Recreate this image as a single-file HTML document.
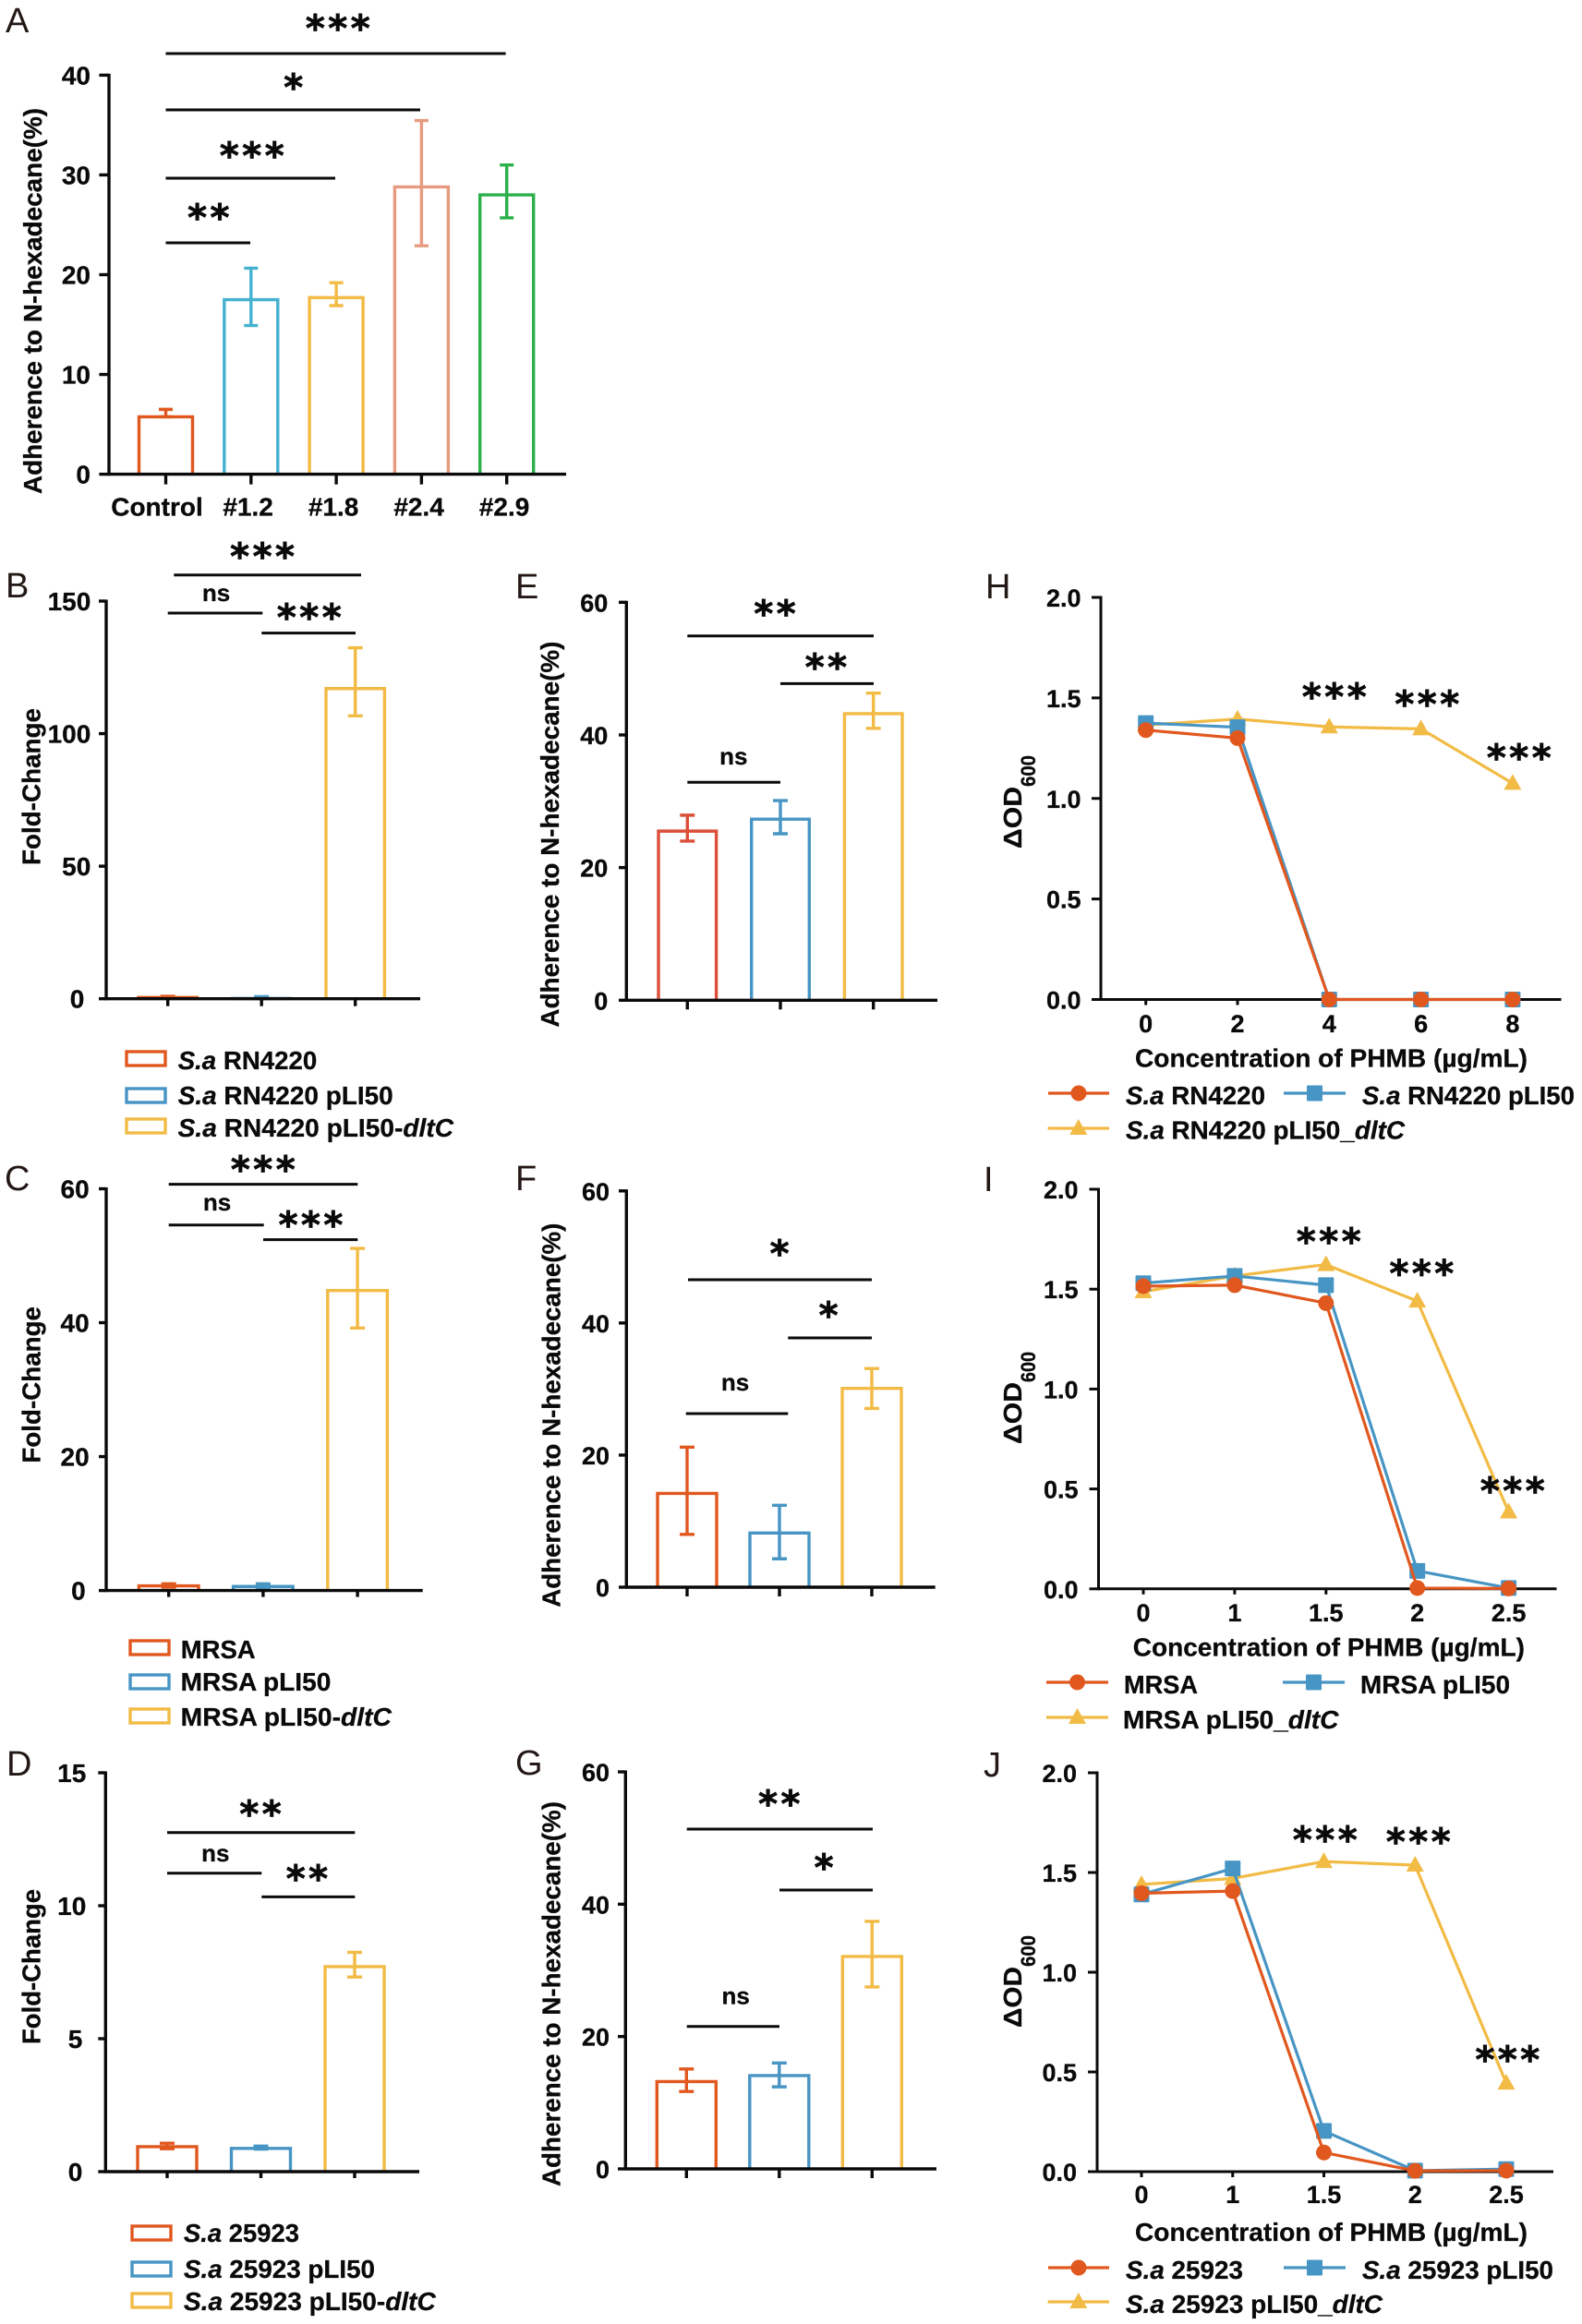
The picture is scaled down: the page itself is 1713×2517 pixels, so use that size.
<!DOCTYPE html>
<html lang="en">
<head>
<meta charset="utf-8">
<title>Adherence, fold-change and PHMB susceptibility panels</title>
<style>
html,body{margin:0;padding:0;background:#fff;}
svg{display:block;}
text{font-family:"Liberation Sans",Arial,sans-serif;font-weight:700;fill:#0a0a0a;white-space:pre;stroke:#0a0a0a;stroke-width:.3px;}
.letter{font-weight:400;fill:#231815;font-size:38px;stroke:none;}
.stars{font-family:"DejaVu Sans",sans-serif;font-weight:700;stroke-width:.8px;letter-spacing:3.5px;}
</style>
</head>
<body>
<svg id="fig" xmlns="http://www.w3.org/2000/svg" width="1713" height="2517" viewBox="0 0 1713 2517"></svg>
<script>
// ---------- Panel data ----------
const panelACategories = ['Control', '#1.2', '#1.8', '#2.4', '#2.9'];
const panelATicks = [0, 10, 20, 30, 40];
const panelAValues = [5.75, 17.5, 17.7, 28.8, 28];
const panelAErrHigh = [6.5, 20.65, 19.2, 35.45, 31];
const panelAErrLow = [5.75, 14.9, 16.9, 22.9, 25.7];

const panelBTicks = [0, 50, 100, 150];
const panelBValues = [0.5, 0.1, 117];
const panelBErrHigh = [0.9, 0.8, 132.4];
const panelBErrLow = [0.2, 0.1, 106.7];

const panelCTicks = [0, 20, 40, 60];
const panelCValues = [0.7, 0.6, 44.8];
const panelCErrHigh = [1.0, 1.0, 51.1];
const panelCErrLow = [0.5, 0.45, 39.2];

const panelDTicks = [0, 5, 10, 15];
const panelDValues = [0.94, 0.875, 7.71];
const panelDErrHigh = [1.07, 0.96, 8.25];
const panelDErrLow = [0.86, 0.85, 7.32];

const panelETicks = [0, 20, 40, 60];
const panelEValues = [25.5, 27.3, 43.2];
const panelEErrHigh = [27.9, 30.1, 46.3];
const panelEErrLow = [24, 25.1, 41];

const panelFTicks = [0, 20, 40, 60];
const panelFValues = [14.2, 8.2, 30.1];
const panelFErrHigh = [21.2, 12.4, 33.1];
const panelFErrLow = [8, 4.3, 27.06];

const panelGTicks = [0, 20, 40, 60];
const panelGValues = [13.2, 14.1, 32.1];
const panelGErrHigh = [15.1, 16, 37.4];
const panelGErrLow = [11.7, 12.4, 27.5];

const lineYTicks = ['0.0', '0.5', '1.0', '1.5', '2.0'];
const panelHDoses = ['0', '2', '4', '6', '8'];
const panelHStrain = [1.34, 1.30, 0, 0, 0];
const panelHVector = [1.375, 1.354, 0, 0, 0];
const panelHDltC = [1.365, 1.395, 1.356, 1.346, 1.075];

const panelIDoses = ['0', '1', '1.5', '2', '2.5'];
const panelIStrain = [1.515, 1.52, 1.43, 0.004, 0.002];
const panelIVector = [1.53, 1.566, 1.52, 0.09, 0.004];
const panelIDltC = [1.487, 1.566, 1.623, 1.44, 0.385];

const panelJDoses = ['0', '1', '1.5', '2', '2.5'];
const panelJStrain = [1.396, 1.407, 0.096, 0.004, 0.005];
const panelJVector = [1.39, 1.52, 0.204, 0.005, 0.013];
const panelJDltC = [1.44, 1.47, 1.555, 1.537, 0.444];

// ---------- Styles ----------
const ORANGE = '#E1581F', BLUE = '#4795C4', YELLOW = '#F2BB45';
const SVGNS = 'http://www.w3.org/2000/svg';
const fig = document.getElementById('fig');

function mk(parent, tag, attrs, txt) {
  const el = document.createElementNS(SVGNS, tag);
  for (const k in attrs) el.setAttribute(k, attrs[k]);
  if (txt !== undefined) el.textContent = txt;
  parent.appendChild(el);
  return el;
}
function linearY(p) {
  return v => p.y0 - (v / p.yMax) * (p.y0 - p.yTop);
}
function catX(p, i) {
  return p.first + p.step * i;
}
function panelGroup(name) {
  const g = mk(fig, 'g', {});
  
  
  return g;
}
function letter(g, ch, x, y) {
  const t = mk(g, 'text', { x: x, y: y, class: 'letter' }, ch);
  
  
}
function axes(g, p, tickVals, tickLabels) {
  const Y = linearY(p);
  const w = p.axW || 3.4;
  const ya = mk(g, 'line', { x1: p.ax, x2: p.ax, y1: p.yTop - 1.5, y2: p.y0 + 1.5, stroke: '#0a0a0a', 'stroke-width': w });
  
  
  const xa = mk(g, 'line', { x1: p.ax - 1, x2: p.xEnd, y1: p.y0, y2: p.y0, stroke: '#0a0a0a', 'stroke-width': w });
  
  
  tickVals.forEach((v, i) => {
    const ty = Y(v);
    const tk = mk(g, 'line', { x1: p.ax - p.yTick, x2: p.ax, y1: ty, y2: ty, stroke: '#0a0a0a', 'stroke-width': w });
    
    
    const s = tickLabels[i];
    const end = p.labelRight + (s.length === 1 ? (p.singleShift || 0) : 0);
    const lb = mk(g, 'text', { x: end, y: ty + 10, 'text-anchor': 'end', 'font-size': p.tickFs }, s);
    
    
  });
  for (let i = 0; i < p.nCat; i++) {
    const x = catX(p, i);
    const tk = mk(g, 'line', { x1: x, x2: x, y1: p.y0, y2: p.y0 + p.xTick, stroke: '#0a0a0a', 'stroke-width': w });
    
    
  }
}
function yTitle(g, str, x, bottom, top, fs) {
  const t = mk(g, 'text', {
    x: x, y: bottom, 'font-size': fs, textLength: bottom - top, lengthAdjust: 'spacingAndGlyphs',
    transform: 'rotate(-90 ' + x + ' ' + bottom + ')'
  }, str);
  
  
}
function bars(g, p, vals, hi, lo, colors) {
  const Y = linearY(p);
  vals.forEach((v, i) => {
    const x = catX(p, i), c = colors[i], h = p.barHalf;
    const b = mk(g, 'path', {
      d: 'M' + (x - h) + ' ' + p.y0 + 'V' + Y(v) + 'H' + (x + h) + 'V' + p.y0,
      fill: 'none', stroke: c, 'stroke-width': 3.4
    });
    
    
    const e = mk(g, 'path', {
      d: 'M' + x + ' ' + Y(lo[i]) + 'V' + Y(hi[i]) +
         'M' + (x - p.cap) + ' ' + Y(hi[i]) + 'H' + (x + p.cap) +
         'M' + (x - p.cap) + ' ' + Y(lo[i]) + 'H' + (x + p.cap),
      fill: 'none', stroke: c, 'stroke-width': 3.4
    });
    
    
  });
}
function stars(g, str, cx, cy) {
  const t = mk(g, 'text', { x: cx + 1.5, y: cy + 20.5, 'text-anchor': 'middle', 'font-size': 40, class: 'stars' }, str);
  
  
}
function bracket(g, b) {
  const l = mk(g, 'line', { x1: b[0], x2: b[1], y1: b[2], y2: b[2], stroke: '#0a0a0a', 'stroke-width': 3 });
  
  
  if (b[3] === 'ns') {
    const t = mk(g, 'text', { x: b[4], y: b[5] + 7, 'text-anchor': 'middle', 'font-size': 26 }, 'ns');
    
    
  } else {
    stars(g, b[3], b[4], b[5]);
  }
}
function richText(g, parts, x, y, w, fs) {
  const t = mk(g, 'text', { x: x, y: y, 'font-size': fs, textLength: w, lengthAdjust: 'spacingAndGlyphs' });
  parts.forEach(pt => {
    const s = mk(t, 'tspan', pt[1] ? { 'font-style': 'italic' } : {}, pt[0]);
  });
  
  
}
function barLegend(g, items) {
  items.forEach(it => {
    const r = mk(g, 'rect', { x: it.sx, y: it.sy, width: it.sw, height: it.sh, fill: 'none', stroke: it.c, 'stroke-width': 3.4 });
    
    
    richText(g, it.parts, it.tx, it.ty, it.tw, 28);
  });
}
function marker(g, kind, x, y, c) {
  let m;
  if (kind === 'circle') {
    m = mk(g, 'circle', { cx: x, cy: y, r: 8.5, fill: c });
  } else if (kind === 'square') {
    m = mk(g, 'rect', { x: x - 8.5, y: y - 8.5, width: 17, height: 17, rx: 1, fill: c });
  } else {
    m = mk(g, 'path', { d: 'M' + x + ' ' + (y - 10) + 'L' + (x + 9.5) + ' ' + (y + 7) + 'H' + (x - 9.5) + 'Z', fill: c });
  }
  
  
}
function series(g, p, vals, kind, c) {
  const Y = linearY(p);
  const pts = vals.map((v, i) => catX(p, i) + ',' + Y(v)).join(' ');
  const l = mk(g, 'polyline', { points: pts, fill: 'none', stroke: c, 'stroke-width': 3.2, 'stroke-linejoin': 'round' });
  
  
  vals.forEach((v, i) => marker(g, kind, catX(p, i), Y(v), c));
}
function lineLegend(g, e) {
  const l = mk(g, 'line', { x1: e.x1, x2: e.x2, y1: e.y, y2: e.y, stroke: e.c, 'stroke-width': 3.2 });
  
  
  marker(g, e.kind, (e.x1 + e.x2) / 2, e.y, e.c);
  richText(g, e.parts, e.tx, e.ty, e.tw, 28);
}
function deltaTitle(g, x, bottom, mid, top) {
  const t = mk(g, 'text', {
    x: x, y: bottom, 'font-size': 28, textLength: bottom - mid, lengthAdjust: 'spacingAndGlyphs',
    transform: 'rotate(-90 ' + x + ' ' + bottom + ')'
  }, '\u0394OD');
  
  
  const s = mk(g, 'text', {
    x: x + 15, y: mid, 'font-size': 22, textLength: mid - top, lengthAdjust: 'spacingAndGlyphs',
    transform: 'rotate(-90 ' + (x + 15) + ' ' + mid + ')'
  }, '600');
  
  
}
function xTitle(g, x1, x2, y) {
  const t = mk(g, 'text', { x: x1, y: y, 'font-size': 28, textLength: x2 - x1, lengthAdjust: 'spacingAndGlyphs' }, 'Concentration of PHMB (\u00B5g/mL)');
  
  
}
function str(a) { return a.map(String); }

// ---------- Panel A ----------
(function () {
  const g = panelGroup('panel-a');
  const p = { ax: 118, xEnd: 613, y0: 513.6, yTop: 81.4, yMax: 40, first: 179.5, step: 92.3, nCat: 5, barHalf: 29, cap: 7.5, yTick: 10.6, xTick: 11, labelRight: 98, tickFs: 28 };
  letter(g, 'A', 6, 35);
  bars(g, p, panelAValues, panelAErrHigh, panelAErrLow, [ORANGE, '#45B1D0', YELLOW, '#E79A7F', '#2BB04B']);
  axes(g, p, panelATicks, str(panelATicks));
  const nudge = [-9.5, -3.2, -3, -2.8, -2.6];
  panelACategories.forEach((c, i) => {
    const t = mk(g, 'text', { x: catX(p, i) + nudge[i], y: 558.7, 'text-anchor': 'middle', 'font-size': 28 }, c);
    
    
  });
  yTitle(g, 'Adherence to N-hexadecane(%)', 45, 535, 117, 28);
  [[179.5, 547.6, 58, '***', 366, 24], [179.5, 455, 119, '*', 318, 88], [179.5, 363, 193, '***', 273, 162], [179.5, 271, 263, '**', 226, 229]].forEach(b => bracket(g, b));
})();

// ---------- Panel B ----------
(function () {
  const g = panelGroup('panel-b');
  const p = { ax: 115, xEnd: 455, y0: 1081.7, yTop: 651, yMax: 150, first: 181.7, step: 101.5, nCat: 3, barHalf: 31.7, cap: 8, yTick: 8, xTick: 8, labelRight: 98.3, singleShift: -7, tickFs: 28 };
  letter(g, 'B', 6, 647);
  bars(g, p, panelBValues, panelBErrHigh, panelBErrLow, [ORANGE, BLUE, YELLOW]);
  axes(g, p, panelBTicks, str(panelBTicks));
  yTitle(g, 'Fold-Change', 43.3, 937, 767, 28);
  [[188.3, 391, 622.8, '***', 284.3, 596], [181.7, 284.3, 664, 'ns', 234, 644], [283.3, 385, 685.6, '***', 335, 662]].forEach(b => bracket(g, b));
  barLegend(g, [
    { sx: 137, sy: 1139, sw: 42, sh: 15, c: ORANGE, parts: [['S.a', true], [' RN4220', false]], tx: 192.7, ty: 1158, tw: 150.6 },
    { sx: 137, sy: 1179, sw: 42, sh: 15, c: BLUE, parts: [['S.a', true], [' RN4220 pLI50', false]], tx: 192.7, ty: 1196, tw: 233 },
    { sx: 137, sy: 1212, sw: 42, sh: 15, c: YELLOW, parts: [['S.a', true], [' RN4220 pLI50-', false], ['dltC', true]], tx: 192.7, ty: 1231, tw: 298.3 }
  ]);
})();

// ---------- Panel C ----------
(function () {
  const g = panelGroup('panel-c');
  const p = { ax: 115, xEnd: 457.7, y0: 1722.6, yTop: 1287.5, yMax: 60, first: 182.7, step: 102.2, nCat: 3, barHalf: 32.3, cap: 8, yTick: 8, xTick: 7, labelRight: 96.7, singleShift: -4, tickFs: 28 };
  letter(g, 'C', 5, 1289);
  bars(g, p, panelCValues, panelCErrHigh, panelCErrLow, [ORANGE, BLUE, YELLOW]);
  axes(g, p, panelCTicks, str(panelCTicks));
  yTitle(g, 'Fold-Change', 43.3, 1584.6, 1415, 28);
  [[182.7, 387.3, 1282.6, '***', 285, 1260], [182.7, 285.7, 1326.7, 'ns', 235, 1304], [285, 387.3, 1342.6, '***', 336.7, 1320]].forEach(b => bracket(g, b));
  barLegend(g, [
    { sx: 141, sy: 1777, sw: 42, sh: 15, c: ORANGE, parts: [['MRSA', false]], tx: 195.7, ty: 1796, tw: 81 },
    { sx: 141, sy: 1814, sw: 42, sh: 15, c: BLUE, parts: [['MRSA pLI50', false]], tx: 195.7, ty: 1831, tw: 162.6 },
    { sx: 141, sy: 1851, sw: 42, sh: 15, c: YELLOW, parts: [['MRSA pLI50-', false], ['dltC', true]], tx: 195.7, ty: 1869, tw: 228.3 }
  ]);
})();

// ---------- Panel D ----------
(function () {
  const g = panelGroup('panel-d');
  const p = { ax: 114.3, xEnd: 454, y0: 2352, yTop: 1920, yMax: 15, first: 181, step: 101.5, nCat: 3, barHalf: 32, cap: 8, yTick: 8, xTick: 7, labelRight: 93.3, singleShift: -4, tickFs: 28 };
  letter(g, 'D', 7, 1923);
  bars(g, p, panelDValues, panelDErrHigh, panelDErrLow, [ORANGE, BLUE, YELLOW]);
  axes(g, p, panelDTicks, str(panelDTicks));
  yTitle(g, 'Fold-Change', 43.3, 2214, 2046, 28);
  [[181, 384.3, 1984.8, '**', 282.3, 1958], [181, 283.3, 2028.8, 'ns', 233.3, 2009], [283.3, 384.3, 2054.4, '**', 332.7, 2028]].forEach(b => bracket(g, b));
  barLegend(g, [
    { sx: 143, sy: 2411, sw: 42, sh: 15, c: ORANGE, parts: [['S.a', true], [' 25923', false]], tx: 199, ty: 2428, tw: 125 },
    { sx: 143, sy: 2450, sw: 42, sh: 15, c: BLUE, parts: [['S.a', true], [' 25923 pLI50', false]], tx: 199, ty: 2467, tw: 207 },
    { sx: 143, sy: 2484, sw: 42, sh: 15, c: YELLOW, parts: [['S.a', true], [' 25923 pLI50-', false], ['dltC', true]], tx: 199, ty: 2502, tw: 272.7 }
  ]);
})();

// ---------- Panel E ----------
(function () {
  const g = panelGroup('panel-e');
  const p = { ax: 678.3, xEnd: 1015, y0: 1083.3, yTop: 652.3, yMax: 60, first: 744.3, step: 100.7, nCat: 3, barHalf: 31.3, cap: 8, yTick: 8.3, xTick: 10, labelRight: 658.3, tickFs: 27 };
  letter(g, 'E', 558, 648);
  bars(g, p, panelEValues, panelEErrHigh, panelEErrLow, ['#DB4F38', BLUE, YELLOW]);
  axes(g, p, panelETicks, str(panelETicks));
  yTitle(g, 'Adherence to N-hexadecane(%)', 605, 1112.6, 694.6, 28);
  [[744.3, 946, 688.8, '**', 839.3, 658], [845, 946, 740.4, '**', 894.7, 716], [744.3, 845, 847.3, 'ns', 794.3, 821]].forEach(b => bracket(g, b));
})();

// ---------- Panel F ----------
(function () {
  const g = panelGroup('panel-f');
  const p = { ax: 678.3, xEnd: 1012.7, y0: 1719, yTop: 1289.8, yMax: 60, first: 744, step: 100, nCat: 3, barHalf: 32, cap: 8, yTick: 8.3, xTick: 10, labelRight: 660, tickFs: 27 };
  letter(g, 'F', 558, 1289);
  bars(g, p, panelFValues, panelFErrHigh, panelFErrLow, [ORANGE, BLUE, YELLOW]);
  axes(g, p, panelFTicks, str(panelFTicks));
  yTitle(g, 'Adherence to N-hexadecane(%)', 606.7, 1740.8, 1324.6, 28);
  [[745, 944, 1386, '*', 844.3, 1351], [853.3, 944, 1449, '*', 897.3, 1418], [742.7, 853.3, 1531, 'ns', 796, 1499]].forEach(b => bracket(g, b));
})();

// ---------- Panel G ----------
(function () {
  const g = panelGroup('panel-g');
  const p = { ax: 677.3, xEnd: 1014, y0: 2349, yTop: 1919, yMax: 60, first: 743.3, step: 100.5, nCat: 3, barHalf: 32, cap: 8, yTick: 8.3, xTick: 10, labelRight: 660, tickFs: 27 };
  letter(g, 'G', 558, 1922);
  bars(g, p, panelGValues, panelGErrHigh, panelGErrLow, [ORANGE, BLUE, YELLOW]);
  axes(g, p, panelGTicks, str(panelGTicks));
  yTitle(g, 'Adherence to N-hexadecane(%)', 606.7, 2368, 1951, 28);
  [[743.7, 945, 1981, '**', 844, 1947], [844, 945, 2047, '*', 892.3, 2016], [743.7, 844, 2194.7, 'ns', 796.7, 2163.5]].forEach(b => bracket(g, b));
})();

// ---------- Line panels ----------
function linePanel(name, ch, lx, ly, p, doses, sA, sB, sC) {
  const g = panelGroup(name);
  letter(g, ch, lx, ly);
  const tickNums = lineYTicks.map(Number);
  axes(g, p, tickNums, lineYTicks);
  doses.forEach((d, i) => {
    const t = mk(g, 'text', { x: catX(p, i), y: p.labY, 'text-anchor': 'middle', 'font-size': 27 }, d);
    
    
  });
  series(g, p, sC, 'triangle', YELLOW);
  series(g, p, sB, 'square', BLUE);
  series(g, p, sA, 'circle', ORANGE);
  return g;
}

(function () {
  const p = { ax: 1192, xEnd: 1690.5, y0: 1082.5, yTop: 647, yMax: 2, first: 1240.7, step: 99.3, nCat: 5, yTick: 10, xTick: 6, labelRight: 1170.5, tickFs: 27, labY: 1118, axW: 3 };
  const g = linePanel('panel-h', 'H', 1067, 648, p, panelHDoses, panelHStrain, panelHVector, panelHDltC);
  deltaTitle(g, 1106, 919, 852, 818);
  xTitle(g, 1229, 1654, 1155.7);
  stars(g, '***', 1445, 748); stars(g, '***', 1545.5, 756); stars(g, '***', 1645, 814);
  lineLegend(g, { x1: 1135, x2: 1201, y: 1184, c: ORANGE, kind: 'circle', parts: [['S.a', true], [' RN4220', false]], tx: 1219, ty: 1196, tw: 151 });
  lineLegend(g, { x1: 1390, x2: 1457, y: 1184, c: BLUE, kind: 'square', parts: [['S.a', true], [' RN4220 pLI50', false]], tx: 1475, ty: 1196, tw: 230 });
  lineLegend(g, { x1: 1134.6, x2: 1201, y: 1222, c: YELLOW, kind: 'triangle', parts: [['S.a', true], [' RN4220 pLI50_', false], ['dltC', true]], tx: 1219, ty: 1233.6, tw: 302 });
})();

(function () {
  const p = { ax: 1189.5, xEnd: 1685.5, y0: 1720.8, yTop: 1288, yMax: 2, first: 1238, step: 98.9, nCat: 5, yTick: 10, xTick: 6, labelRight: 1167.5, tickFs: 27, labY: 1756, axW: 3 };
  const g = linePanel('panel-i', 'I', 1065, 1290, p, panelIDoses, panelIStrain, panelIVector, panelIDltC);
  deltaTitle(g, 1106, 1564, 1497, 1464);
  xTitle(g, 1226.7, 1651, 1793.5);
  stars(g, '***', 1439, 1338); stars(g, '***', 1539.6, 1372.4); stars(g, '***', 1638, 1608);
  lineLegend(g, { x1: 1133, x2: 1200, y: 1822, c: ORANGE, kind: 'circle', parts: [['MRSA', false]], tx: 1217, ty: 1834, tw: 80 });
  lineLegend(g, { x1: 1389, x2: 1456, y: 1822, c: BLUE, kind: 'square', parts: [['MRSA pLI50', false]], tx: 1473, ty: 1834, tw: 162 });
  lineLegend(g, { x1: 1133, x2: 1200, y: 1860, c: YELLOW, kind: 'triangle', parts: [['MRSA pLI50_', false], ['dltC', true]], tx: 1216, ty: 1872, tw: 233.5 });
})();

(function () {
  const p = { ax: 1188, xEnd: 1682, y0: 2352, yTop: 1920, yMax: 2, first: 1236, step: 98.75, nCat: 5, yTick: 10, xTick: 6, labelRight: 1166, tickFs: 27, labY: 2386, axW: 3 };
  const g = linePanel('panel-j', 'J', 1065, 1924, p, panelJDoses, panelJStrain, panelJVector, panelJDltC);
  deltaTitle(g, 1106, 2196, 2130, 2096);
  xTitle(g, 1229, 1654, 2426.8);
  stars(g, '***', 1435, 1986); stars(g, '***', 1536, 1988); stars(g, '***', 1632.6, 2224);
  lineLegend(g, { x1: 1135, x2: 1201, y: 2456, c: ORANGE, kind: 'circle', parts: [['S.a', true], [' 25923', false]], tx: 1219, ty: 2468, tw: 127 });
  lineLegend(g, { x1: 1390, x2: 1457, y: 2456, c: BLUE, kind: 'square', parts: [['S.a', true], [' 25923 pLI50', false]], tx: 1475, ty: 2468, tw: 207 });
  lineLegend(g, { x1: 1134.6, x2: 1201, y: 2493, c: YELLOW, kind: 'triangle', parts: [['S.a', true], [' 25923 pLI50_', false], ['dltC', true]], tx: 1219, ty: 2505, tw: 278 });
})();
</script>
</body>
</html>
